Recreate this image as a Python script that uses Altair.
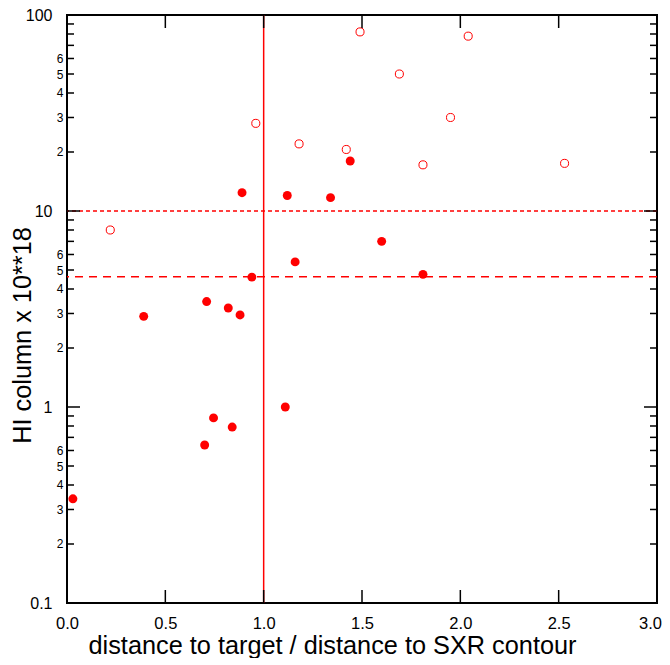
import altair as alt
import pandas as pd

# filled circles
filled_x = [0.03, 0.39, 0.71, 0.82, 0.88, 0.94, 0.89, 1.12, 1.34, 1.16, 1.44, 1.60, 1.81, 0.70, 0.745, 0.84, 1.11]
filled_y = [0.34, 2.9, 3.45, 3.2, 2.95, 4.6, 12.4, 12.0, 11.7, 5.5, 18.0, 7.0, 4.75, 0.64, 0.88, 0.79, 1.0]

# open circles
open_x = [0.22, 0.96, 1.18, 1.49, 2.04, 1.69, 1.95, 1.42, 1.81, 2.53]
open_y = [8.0, 28.0, 22.0, 82.0, 78.0, 50.0, 30.0, 20.6, 17.2, 17.5]

# reference lines
vline_x = [1.0]
hline_dotted_y = [10.0]
hline_dashed_y = [4.62]

# axis ticks
x_domain = [0.0, 3.0]
y_domain = [0.1, 100.0]
x_major = [0.0, 0.5, 1.0, 1.5, 2.0, 2.5, 3.0]
y_major = [0.1, 1.0, 10.0, 100.0]
y_minor = [0.2, 0.3, 0.4, 0.5, 0.6, 0.7, 0.8, 0.9,
           2, 3, 4, 5, 6, 7, 8, 9,
           20, 30, 40, 50, 60, 70, 80, 90]

x_title = "distance to target / distance to SXR contour"
y_title = "HI column x 10**18"

RED = "#ff0000"
FONT = "Liberation Sans"

df_f = pd.DataFrame({"x": filled_x, "y": filled_y})
df_o = pd.DataFrame({"x": open_x, "y": open_y})
df_v = pd.DataFrame({"x": vline_x})
df_hd = pd.DataFrame({"y": hline_dotted_y})
df_hs = pd.DataFrame({"y": hline_dashed_y})
df_xt = pd.DataFrame({"v": x_major})
df_yM = pd.DataFrame({"v": y_major})
df_ym = pd.DataFrame({"v": y_minor})

xs = alt.Scale(domain=x_domain, nice=False, zero=False)
ys = alt.Scale(type="log", domain=y_domain, nice=False)

common = dict(domain=False, ticks=False, grid=False, labelOverlap=False, labelFlush=False,
              labelFont=FONT, labelColor="black", titleFont=FONT, titleColor="black",
              titleFontWeight="normal")

minor_label = ("floor(datum.value / pow(10, floor(log(datum.value) / LN10)) + 0.5) <= 6 ? "
               "format(floor(datum.value / pow(10, floor(log(datum.value) / LN10)) + 0.5), 'd') : ''")

x_label_offset = {"condition": {"test": "datum.value >= 3", "value": -7}, "value": 0}

filled = alt.Chart(df_f).mark_circle(size=80, color=RED, opacity=1).encode(
    x=alt.X("x:Q", scale=xs, axis=alt.Axis(
        orient="bottom", values=x_major, format=".1f",
        labelPadding=12, labelFontSize=16.5, labelOffset=x_label_offset,
        title=x_title, titleFontSize=25.3,
        titleX=265, titleY=50, titleBaseline="alphabetic", **common)),
    y=alt.Y("y:Q", scale=ys, axis=alt.Axis(
        orient="left", values=y_major, format="~g",
        labelPadding=15, labelFontSize=16, title=y_title, titleFontSize=25.3,
        titleX=-37, titleY=320, titleBaseline="alphabetic", **common)),
)

opened = alt.Chart(df_o).mark_point(shape="circle", filled=False, size=65, color=RED,
                                     strokeWidth=1, opacity=1).encode(
    x=alt.X("x:Q", scale=xs, axis=None),
    y=alt.Y("y:Q", scale=ys, axis=alt.Axis(
        orient="left", values=y_minor, labelExpr=minor_label,
        labelPadding=4, labelFontSize=12, title=None, **common)),
)

vline = alt.Chart(df_v).mark_rule(color=RED, strokeWidth=1.5).encode(
    x=alt.X("x:Q", scale=xs, axis=None),
)

hdot = alt.Chart(df_hd).mark_rule(color=RED, strokeWidth=1.5, strokeDash=[4, 3]).encode(
    y=alt.Y("y:Q", scale=ys, axis=None),
)

hdash = alt.Chart(df_hs).mark_rule(color=RED, strokeWidth=1.5, strokeDash=[8, 6]).encode(
    y=alt.Y("y:Q", scale=ys, axis=None),
)


# inward tick marks on all four sides (centred on the frame, clipped to the plot)
def ytick(df, edge, length):
    return alt.Chart(df).mark_tick(orient="horizontal", size=2 * length, thickness=1.5,
                                   color="black", opacity=1, clip=True).encode(
        y=alt.Y("v:Q", scale=ys, axis=None),
        x=alt.XDatum(edge, type="quantitative", axis=None),
    )


def xtick(df, edge, length):
    return alt.Chart(df).mark_tick(orient="vertical", size=2 * length, thickness=1.5,
                                   color="black", opacity=1, clip=True).encode(
        x=alt.X("v:Q", scale=xs, axis=None),
        y=alt.YDatum(edge, type="quantitative", axis=None),
    )


ticks = [
    ytick(df_yM, x_domain[0], 13), ytick(df_ym, x_domain[0], 7),
    ytick(df_yM, x_domain[1], 13), ytick(df_ym, x_domain[1], 7),
    xtick(df_xt, y_domain[0], 13), xtick(df_xt, y_domain[1], 13),
]

chart = alt.layer(filled, opened, vline, hdot, hdash, *ticks).resolve_scale(
    x="shared", y="shared"
).resolve_axis(
    x="independent", y="independent"
).properties(
    width=590, height=588,
    autosize=alt.AutoSizeParams(type="none"),
    padding={"left": 59, "top": 7, "right": 5, "bottom": 55},
    background="white",
).configure_view(stroke="black", strokeWidth=2)

chart.save("out.html", embed_options={"renderer": "svg", "actions": False})
